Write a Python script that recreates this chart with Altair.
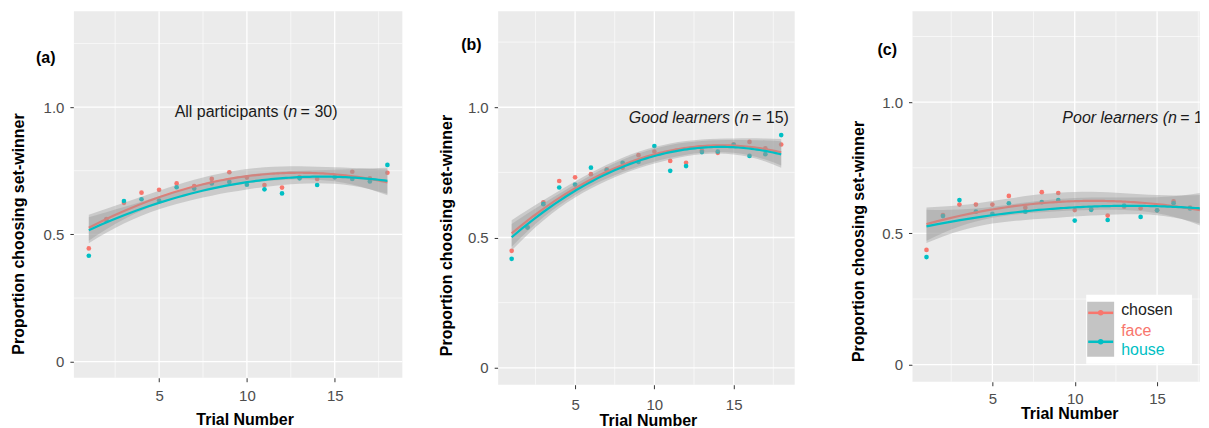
import altair as alt
import numpy as np
import pandas as pd

# ---------------- data ----------------
trial = list(range(1, 19))

a_face = [0.445, 0.56, 0.624, 0.664, 0.675, 0.70, 0.69, 0.718, 0.744, 0.723,
          0.694, 0.684, 0.725, 0.718, 0.727, 0.746, 0.72, 0.742]
a_house = [0.416, 0.555, 0.631, 0.638, 0.633, 0.685, 0.68, 0.70, 0.706, 0.695,
           0.677, 0.661, 0.72, 0.694, 0.724, 0.718, 0.708, 0.773]

b_face = [0.449, 0.54, 0.635, 0.717, 0.731, 0.743, 0.762, 0.768, 0.816, 0.83,
          0.794, 0.787, 0.834, 0.825, 0.858, 0.867, 0.842, 0.857]
b_house = [0.418, 0.538, 0.628, 0.692, 0.703, 0.768, 0.758, 0.787, 0.79, 0.851,
           0.756, 0.774, 0.828, 0.83, 0.856, 0.813, 0.82, 0.893]

c_face = [0.437, 0.57, 0.61, 0.61, 0.61, 0.643, 0.598, 0.657, 0.654, 0.589,
          0.592, 0.568, 0.602, 0.596, 0.588, 0.622, 0.598, 0.63]
c_house = [0.41, 0.566, 0.627, 0.583, 0.575, 0.615, 0.583, 0.619, 0.627, 0.549,
           0.59, 0.551, 0.606, 0.563, 0.588, 0.615, 0.595, 0.644]

band_scale = {"a": 0.08, "b": 0.08, "c": 0.10}

groups = ["face", "house"]
colors = ["#F8766D", "#00BFC4"]
legend_title = "chosen"

x_major = [5, 10, 15]
x_minor = [2.5, 7.5, 12.5, 17.5]
y_major = [0, 0.5, 1.0]
y_minor = [0.25, 0.75, 1.25]

FONT = "Liberation Sans"
X_LO, X_HI = 0.15, 18.85
C_W = 287.8                       # panel (c) is cut by the right edge of the picture

panels = [
    dict(key="a", face=a_face, house=a_house, label="(a)",
         txt=("All participants (", "n", "= 30)"), txt_italic_lead=False,
         txt_x=12.39, txt_x2=12.86, txt_y=0.962,
         xdom=[X_LO, X_HI], ydom=[-0.063, 1.376], w=329, h=367,
         ytx=-47, yty=222.5, xtx=171, xty=34, xlp=7, lab=(-38, 47)),
    dict(key="b", face=b_face, house=b_house, label="(b)",
         txt=("Good learners (n", "", "= 15)"), txt_italic_lead=True,
         txt_x=15.94, txt_x2=15.94, txt_y=0.94,
         xdom=[X_LO, X_HI], ydom=[-0.065, 1.368], w=297, h=374,
         ytx=-44, yty=224, xtx=150, xty=28, xlp=9, lab=(-37, 34)),
    dict(key="c", face=c_face, house=c_house, label="(c)",
         txt=("Poor learners (n", "", "= 15)"), txt_italic_lead=True,
         txt_x=16.2, txt_x2=16.2, txt_y=0.921,
         xdom=[X_LO, X_LO + C_W / 16.5], ydom=[-0.065, 1.346], w=C_W, h=371,
         ytx=-46, yty=230, xtx=157, xty=24, xlp=6, lab=(-35, 39)),
]

color_scale = alt.Scale(domain=groups, range=colors)
t_arr = np.array(trial, dtype=float)
X = np.vstack([np.ones_like(t_arr), t_arr, t_arr ** 2]).T
XtX_inv = np.linalg.inv(X.T @ X)
lev = np.einsum("ij,jk,ik->i", X, XtX_inv, X)


def make_panel(p):
    clip = p["key"] == "c"
    xr = min(X_HI, p["xdom"][1])
    xs = alt.Scale(domain=p["xdom"], nice=False, zero=False)
    ys = alt.Scale(domain=p["ydom"], nice=False, zero=False)
    xaxis = alt.Axis(values=x_major, grid=False, domain=False, tickSize=4,
                     tickColor="#333333", labelFont=FONT, labelFontSize=15,
                     labelColor="#4D4D4D", labelPadding=p["xlp"],
                     title="Trial Number", titleFont=FONT, titleFontSize=16,
                     titleFontWeight="bold", titleColor="#000000",
                     titleX=p["xtx"], titleY=p["xty"], titleBaseline="top",
                     titleAlign="center")
    yaxis = alt.Axis(values=y_major, grid=False, domain=False, tickSize=4,
                     tickColor="#333333", labelFont=FONT, labelFontSize=15,
                     labelColor="#4D4D4D", labelPadding=6,
                     labelExpr="datum.value == 0 ? '0' : format(datum.value, '.1f')",
                     title="Proportion choosing set-winner", titleFont=FONT,
                     titleFontSize=16, titleFontWeight="bold", titleColor="#000000",
                     titleX=p["ytx"], titleY=p["yty"], titleAngle=270,
                     titleBaseline="bottom", titleAlign="center")
    xenc = lambda f: alt.X(f, scale=xs, axis=xaxis)
    yenc = lambda f: alt.Y(f, scale=ys, axis=yaxis)

    df = pd.DataFrame({
        "trial": trial * 2,
        "prop": p["face"] + p["house"],
        "grp": ["face"] * 18 + ["house"] * 18,
    })

    bg = alt.Chart(pd.DataFrame({"x0": [X_LO], "x1": [xr],
                                 "y0": [p["ydom"][0]], "y1": [p["ydom"][1]]})
                   ).mark_rect(color="#EBEBEB").encode(
        x=xenc("x0:Q"), x2="x1:Q", y=yenc("y0:Q"), y2="y1:Q")

    def hgrid(vals, wdt):
        d = pd.DataFrame({"v": vals, "x0": X_LO, "x1": xr})
        return alt.Chart(d).mark_rule(color="white", strokeWidth=wdt).encode(
            y=yenc("v:Q"), x=xenc("x0:Q"), x2="x1:Q")

    def vgrid(vals, wdt):
        d = pd.DataFrame({"v": [v for v in vals if v <= xr]})
        return alt.Chart(d).mark_rule(color="white", strokeWidth=wdt).encode(
            x=xenc("v:Q"))

    pts = alt.Chart(df).mark_circle(size=22, opacity=1, clip=clip).encode(
        x=xenc("trial:Q"), y=yenc("prop:Q"),
        color=alt.Color("grp:N", scale=color_scale, legend=None),
    )

    layers = [bg, hgrid(y_minor, 0.6), hgrid(y_major, 1.3),
              vgrid(x_minor, 0.6), vgrid(x_major, 1.3), pts]

    for g, col in zip(groups, colors):
        vals = np.array(p[g])
        coef = np.polyfit(t_arr, vals, 2)
        fit = np.polyval(coef, t_arr)
        hw = band_scale[p["key"]] * np.sqrt(lev)
        bdf = pd.DataFrame({"trial": trial, "lo": fit - hw, "hi": fit + hw})
        band = alt.Chart(bdf).mark_area(color="#999999", opacity=0.4,
                                        interpolate="monotone", clip=clip).encode(
            x=xenc("trial:Q"), y=yenc("lo:Q"), y2="hi:Q")
        line = alt.Chart(df).transform_filter(
            alt.datum.grp == g
        ).transform_regression("trial", "prop", method="poly", order=2).mark_line(
            color=col, strokeWidth=2.2, clip=clip).encode(
            x=xenc("trial:Q"), y=yenc("prop:Q"))
        layers += [band, line]

    one = pd.DataFrame({"k": [0]})
    # annotation text
    t1, t2, t3 = p["txt"]
    tdf = pd.DataFrame({"x1": [p["txt_x"]], "x2": [p["txt_x2"]], "y": [p["txt_y"]]})
    base_txt = dict(font=FONT, fontSize=16, color="#1A1A1A", baseline="alphabetic",
                    clip=clip)
    if p["txt_italic_lead"]:
        lead = alt.Chart(tdf).mark_text(align="right", fontStyle="italic", **base_txt).encode(
            x=xenc("x1:Q"), y=yenc("y:Q"), text=alt.value(t1))
        tail = alt.Chart(tdf).mark_text(align="left", dx=3.5, **base_txt).encode(
            x=xenc("x2:Q"), y=yenc("y:Q"), text=alt.value(t3))
        layers += [lead, tail]
    else:
        lead = alt.Chart(tdf).mark_text(align="right", dx=-8.9, **base_txt).encode(
            x=xenc("x2:Q"), y=yenc("y:Q"), text=alt.value(t1))
        mid = alt.Chart(tdf).mark_text(align="right", fontStyle="italic", **base_txt).encode(
            x=xenc("x2:Q"), y=yenc("y:Q"), text=alt.value(t2))
        tail = alt.Chart(tdf).mark_text(align="left", dx=3.5, **base_txt).encode(
            x=xenc("x2:Q"), y=yenc("y:Q"), text=alt.value(t3))
        layers += [lead, mid, tail]

    # panel label
    lab = alt.Chart(one).mark_text(align="left", baseline="middle", font=FONT,
                                   fontSize=16, fontWeight="bold", color="#000000").encode(
        x=alt.value(p["lab"][0]), y=alt.value(p["lab"][1]), text=alt.value(p["label"]))
    layers.append(lab)

    if p["key"] == "c":
        box = alt.Chart(one).mark_rect(fill="white").encode(
            x=alt.value(174), x2=alt.value(280), y=alt.value(284), y2=alt.value(353))
        key_bg = alt.Chart(one).mark_rect(fill="#C4C4C4").encode(
            x=alt.value(175), x2=alt.value(202), y=alt.value(291), y2=alt.value(346))
        layers += [box, key_bg]
        for i, (g, col) in enumerate(zip(groups, colors)):
            ky = 302 + i * 29
            layers.append(alt.Chart(one).mark_rule(color=col, strokeWidth=2.5).encode(
                x=alt.value(176), x2=alt.value(201), y=alt.value(ky)))
            layers.append(alt.Chart(one).mark_circle(color=col, size=30, opacity=1).encode(
                x=alt.value(188.5), y=alt.value(ky)))
        ltexts = [(legend_title, "#222222", 299), (groups[0], colors[0], 320),
                  (groups[1], colors[1], 339)]
        for txt, col, ty in ltexts:
            layers.append(alt.Chart(one).mark_text(
                align="left", baseline="middle", font=FONT, fontSize=16, color=col).encode(
                x=alt.value(209), y=alt.value(ty), text=alt.value(txt)))

    return alt.layer(*layers).properties(width=p["w"], height=p["h"])


def spacer(w):
    return alt.Chart(pd.DataFrame({"k": [0]})).mark_point(opacity=0).encode(
        x=alt.value(0), y=alt.value(0)).properties(width=w, height=1)


pa, pb, pc = [make_panel(p) for p in panels]

chart = alt.hconcat(pa, spacer(95.3), pb, spacer(117.2), pc,
                    spacing=0, bounds="flush").properties(
    padding={"left": 3, "top": 0, "right": 0, "bottom": 0},
    background="white",
).configure_view(stroke="transparent", strokeWidth=0)

chart.save("out.html", embed_options={"renderer": "svg", "actions": False})
